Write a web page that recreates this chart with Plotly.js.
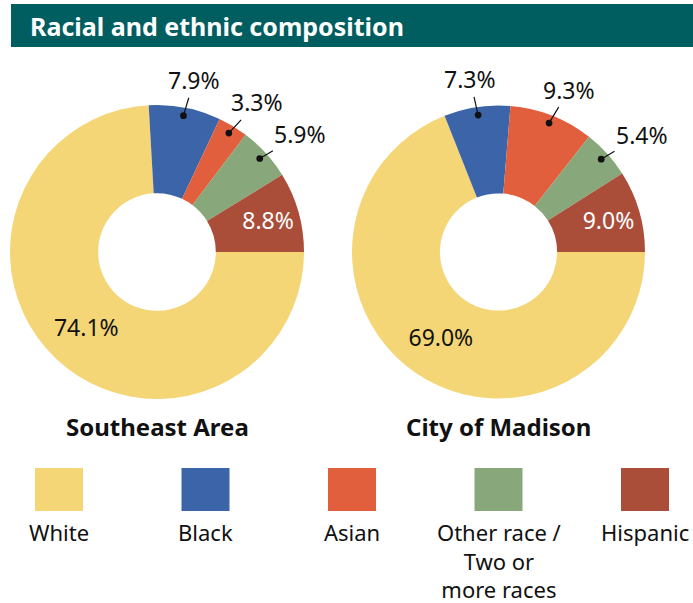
<!DOCTYPE html>
<html><head><meta charset="utf-8">
<script src="https://cdn.plot.ly/plotly-3.0.1.min.js"></script>
<style>html,body{margin:0;padding:0;background:#fff}</style>
</head><body><div id="chart" style="width:693px;height:603px"></div>
<script>
// ---- data ----
const categories = ['White', 'Black', 'Asian', 'Other race / Two or more races', 'Hispanic'];
const legendLabels = [['White'], ['Black'], ['Asian'], ['Other race /', 'Two or', 'more races'], ['Hispanic']];
const colors = ['#F4D677', '#3C64A8', '#E25F3D', '#88A87B', '#AA4E3A'];
const southeastValues = [74.1, 7.9, 3.3, 5.9, 8.8];
const madisonValues = [69.0, 7.3, 9.3, 5.4, 9.0];
const areaNames = ['Southeast Area', 'City of Madison'];
const chartTitle = 'Racial and ethnic composition';

// ---- layout helpers ----
const W = 693, H = 603;
const FONT = '"Noto Sans", "Open Sans", sans-serif';
const px = v => v / W;
const py = v => 1 - v / H;
const domains = [
  {x: [px(10), px(304)], y: [py(399), py(105)]},
  {x: [px(352), px(645)], y: [py(399), py(105)]}
];
const insidePos = ['inside', 'none', 'none', 'none', 'inside'];
const insideColors = ['#111111', '#111111', '#111111', '#111111', '#ffffff'];
const series = [southeastValues, madisonValues];

const traces = series.map((vals, k) => ({
  type: 'pie',
  values: vals,
  labels: categories,
  sort: false,
  direction: 'clockwise',
  rotation: 90,
  hole: 0.4,
  domain: domains[k],
  marker: {colors: colors, line: {width: 0}},
  texttemplate: '%{value:.1f}%',
  textposition: insidePos,
  insidetextorientation: 'horizontal',
  textfont: {family: FONT, size: 23, color: insideColors},
  hoverinfo: 'none',
  showlegend: false
}));

const annotations = [];
// outside labels with leader lines, positioned from the slice angles
series.forEach((vals, k) => {
  const d = domains[k];
  const wpx = (d.x[1] - d.x[0]) * W, hpx = (d.y[1] - d.y[0]) * H;
  const R = Math.min(wpx, hpx) / 2;
  const cx = (d.x[0] + d.x[1]) / 2, cy = (d.y[0] + d.y[1]) / 2;
  const total = vals.reduce((a, b) => a + b, 0);
  let start = 0;
  vals.forEach((v, i) => {
    const span = v / total * 360;
    const mid = (start - span / 2) * Math.PI / 180;
    start -= span;
    if (insidePos[i] !== 'none') return;
    const r = 0.945 * R;
    annotations.push({
      xref: 'paper', yref: 'paper',
      x: cx + r * Math.cos(mid) / W,
      y: cy + r * Math.sin(mid) / H,
      text: v.toFixed(1) + '%',
      showarrow: true, arrowhead: 6, arrowsize: 1.4, arrowwidth: 1.2, arrowcolor: '#111',
      ax: 55 * Math.cos(mid), ay: -36 * Math.sin(mid),
      font: {family: FONT, size: 23, color: '#111'}
    });
  });
  annotations.push({
    xref: 'paper', yref: 'paper', x: cx, y: py(426), xanchor: 'center', yanchor: 'middle',
    text: '<b>' + areaNames[k] + '</b>', showarrow: false,
    font: {family: FONT, size: 24, color: '#111'}
  });
});

const shapes = [{
  type: 'rect', xref: 'paper', yref: 'paper', x0: px(11), x1: px(693), y0: py(47), y1: py(4),
  fillcolor: '#005E61', line: {width: 0}, layer: 'below'
}];
legendLabels.forEach((lines, i) => {
  const cxp = 59 + i * 146.5;
  shapes.push({
    type: 'rect', xref: 'paper', yref: 'paper', x0: px(cxp - 24), x1: px(cxp + 24), y0: py(511), y1: py(468),
    fillcolor: colors[i], line: {width: 0}
  });
  annotations.push({
    xref: 'paper', yref: 'paper', x: px(cxp), y: py(532 + (lines.length - 1) * 14), xanchor: 'center', yanchor: 'middle',
    text: lines.join('<br>'), showarrow: false, align: 'center', borderpad: 0,
    font: {family: FONT, size: 22, color: '#111'}
  });
});
annotations.push({
  xref: 'paper', yref: 'paper', x: px(28), y: py(26), xanchor: 'left', yanchor: 'middle',
  text: '<b>' + chartTitle + '</b>', showarrow: false,
  font: {family: FONT, size: 25, color: '#ffffff'}
});

const layout = {
  width: W, height: H,
  margin: {l: 0, r: 0, t: 0, b: 0},
  paper_bgcolor: '#ffffff',
  shapes: shapes,
  annotations: annotations,
  showlegend: false
};
Plotly.newPlot('chart', traces, layout, {displayModeBar: false, staticPlot: true});
</script>
</body></html>
